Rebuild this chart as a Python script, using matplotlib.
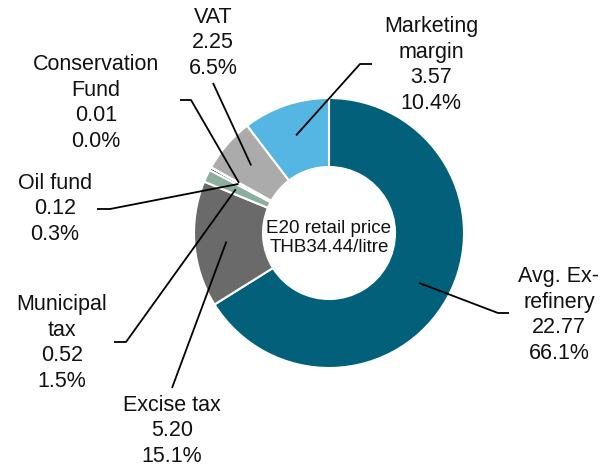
"""
E20 retail price breakdown, donut with leader-line labels.
"""
import numpy as np
import matplotlib.pyplot as plt

plt.rcParams["font.family"] = ["Liberation Sans", "DejaVu Sans"]

# =========================================================
# DATA
# =========================================================
names  = ["Avg. Ex-\nrefinery", "Excise tax", "Municipal\ntax", "Oil fund",
          "Conservation\nFund", "VAT", "Marketing\nmargin"]
values = [22.77, 5.20, 0.52, 0.12, 0.01, 2.25, 3.57]
colors = ["#03607A", "#6A6A6A", "#8BAE9D", "#3A3A3A", "#C8C8C8", "#ABABAB", "#55B5E3"]

# =========================================================
# LAYOUT (pixel coords, y from top)
# =========================================================
W, H   = 609, 466
CX, CY = 329, 233
R, R_IN = 135, 66
LEAD_R = 0.763 * R

label_pos = [(559, 315), (172, 431), (62, 343), (55, 209), (96, 103), (213, 43), (431, 65)]
elbows = [
    [(498, 313), (509, 313)],
    [(172, 388)],
    [(126, 342), (114, 342)],
    [(110, 209), (97, 209)],
    [(191, 100), (180, 100)],
    [(213, 83)],
    [(360, 64), (372, 64)],
]

def yflip(p):
    return (p[0], H - p[1])

# =========================================================
# PLOT
# =========================================================
fig = plt.figure(figsize=(W / 100, H / 100), dpi=100)
ax = fig.add_axes([0, 0, 1, 1])

wedges, _ = ax.pie(values, colors=colors, startangle=90, counterclock=False,
                   center=(CX, H - CY), radius=R, frame=True,
                   wedgeprops=dict(width=R - R_IN, edgecolor="white", linewidth=1.5))
ax.set_xlim(0, W); ax.set_ylim(0, H); ax.set_aspect("equal"); ax.axis("off")

total = sum(values)
for w, name, val, lp, elb in zip(wedges, names, values, label_pos, elbows):
    ang = np.deg2rad((w.theta1 + w.theta2) / 2)
    start = (CX + LEAD_R * np.cos(ang), (H - CY) + LEAD_R * np.sin(ang))
    pts = [start] + [yflip(p) for p in elb]
    xs, ys = zip(*pts)
    ax.plot(xs, ys, color="black", linewidth=1.3, solid_capstyle="butt", zorder=5)
    ax.text(lp[0], H - lp[1], f"{name}\n{val:.2f}\n{val / total * 100:.1f}%",
            ha="center", va="center", multialignment="center", fontsize=15.5,
            color="#111111", linespacing=1.29)

ax.text(CX, H - CY - 5, f"E20 retail price\nTHB{total:.2f}/litre", ha="center", va="center",
        fontsize=13.5, color="#111111", linespacing=1.15)

fig.savefig("out.png", dpi=100)
